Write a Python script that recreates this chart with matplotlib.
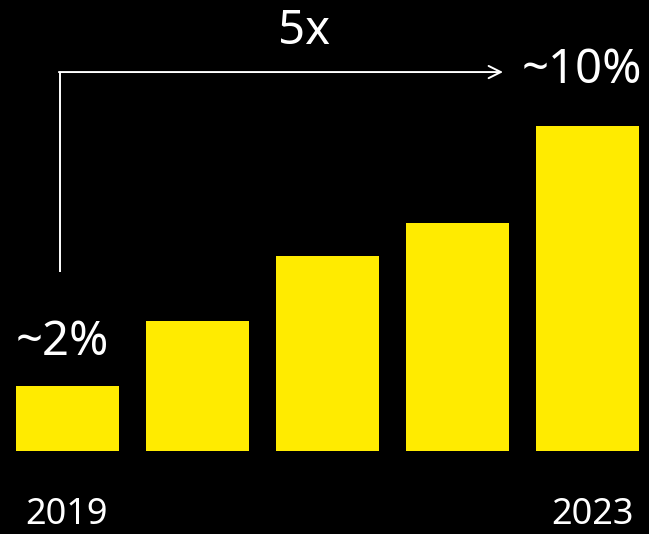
import matplotlib
matplotlib.use('Agg')
import matplotlib.pyplot as plt

# share of total, in percent
years = ['2019', '2020', '2021', '2022', '2023']
share = [2, 4, 6, 7, 10]
first_label = '~2%'
last_label = '~10%'
growth_label = '5x'

yellow = '#ffeb00'
plt.rcParams['font.family'] = ['Noto Sans', 'DejaVu Sans']

fig = plt.figure(figsize=(6.49, 5.34), dpi=100, facecolor='black')
ax = fig.add_axes([0, 0, 1, 1])
ax.set_facecolor('black')

x = list(range(len(share)))
ax.bar(x, share, width=0.792, color=yellow)

ax.set_xlim(-0.519, 4.473)
ax.set_ylim(-2.554, 13.877)
ax.axis('off')

# value labels over first and last bar
ax.text(x[0] - 0.04, share[0] + 1.35, first_label, color='white', fontsize=34,
        ha='center', va='center')
ax.text(x[-1] - 0.04, share[-1] + 1.72, last_label, color='white', fontsize=34,
        ha='center', va='center')

# year labels at both ends
ax.text(x[0] - 0.01, -1.96, years[0], color='white', fontsize=26,
        ha='center', va='center')
ax.text(x[-1] + 0.04, -1.96, years[-1], color='white', fontsize=26,
        ha='center', va='center')

# growth arrow: up from the first bar, then across to the last
y_top = share[-1] + 1.66
ax.plot([x[0] - 0.06, x[0] - 0.06], [share[0] + 3.5, y_top], color='white', lw=1.4,
        solid_capstyle='butt')
ax.annotate('', xy=(3.35, y_top), xytext=(x[0] - 0.066, y_top),
            arrowprops=dict(arrowstyle='->', color='white', lw=1.4,
                            mutation_scale=22, shrinkA=0, shrinkB=0))
ax.text(1.82, share[-1] + 2.92, growth_label, color='white', fontsize=34,
        ha='center', va='center')

fig.savefig('out.png', dpi=100, facecolor='black')
